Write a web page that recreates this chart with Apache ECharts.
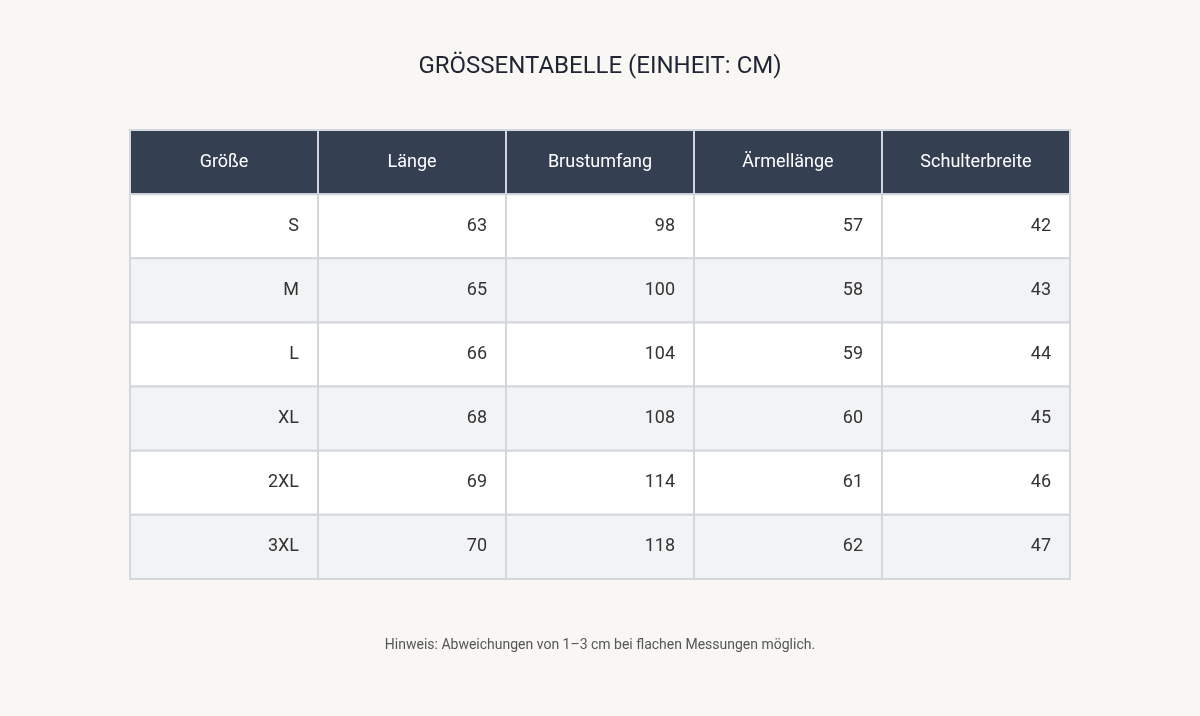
<!DOCTYPE html>
<html>
<head>
<meta charset="utf-8">
<title>Größentabelle</title>
<script src="https://cdn.jsdelivr.net/npm/echarts@6/dist/echarts.min.js"></script>
<style>
  html, body { margin: 0; padding: 0; background: #f8f7f3; }
  #main { width: 1200px; height: 716px; }
</style>
</head>
<body>
<div id="main"></div>
<script>
var headers = ['Größe', 'Länge', 'Brustumfang', 'Ärmellänge', 'Schulterbreite'];
var sizes = ['S', 'M', 'L', 'XL', '2XL', '3XL'];
var laenge = [63, 65, 66, 68, 69, 70];
var brust = [98, 100, 104, 108, 114, 118];
var aermel = [57, 58, 59, 60, 61, 62];
var schulter = [42, 43, 44, 45, 46, 47];

var columns = [sizes, laenge, brust, aermel, schulter];
var rowNames = ['head'].concat(sizes);

// Zellen: [spalte, zeile, text]
var cells = [];
headers.forEach(function (h, c) { cells.push([c, 0, h]); });
sizes.forEach(function (s, r) {
  columns.forEach(function (col, c) { cells.push([c, r + 1, String(col[r])]); });
});

var chart = echarts.init(document.getElementById('main'));
chart.setOption({
  backgroundColor: '#f8f7f3',
  animation: false,
  title: {
    text: 'GRÖSSENTABELLE (EINHEIT: CM)',
    left: 'center', top: 50,
    textStyle: { fontFamily: 'Roboto', fontSize: 24, fontWeight: 'normal', color: '#1f2533' }
  },
  graphic: [{
    type: 'text', left: 'center', top: 638,
    style: { text: 'Hinweis: Abweichungen von 1–3 cm bei flachen Messungen möglich.',
      font: '14px Roboto', fill: '#555' }
  }],
  grid: { left: 130, top: 130, width: 940, height: 449 },
  xAxis: { type: 'category', data: headers, show: false },
  yAxis: { type: 'category', data: rowNames, inverse: true, show: false },
  series: [{
    type: 'custom',
    data: cells,
    renderItem: function (params, api) {
      var c = api.value(0), r = api.value(1);
      var p = api.coord([c, r]);
      var sz = api.size([1, 1]);
      var x = p[0] - sz[0] / 2, y = p[1] - sz[1] / 2;
      var head = r === 0;
      var fill = head ? '#353f52' : (r % 2 === 0 ? '#f2f3f5' : '#ffffff');
      var txt = cells[params.dataIndex][2];
      return {
        type: 'group',
        children: [{
          type: 'rect',
          shape: { x: x, y: y, width: sz[0], height: sz[1] },
          style: { fill: fill, stroke: '#d3d6dc', lineWidth: 2 }
        }, {
          type: 'text',
          x: head ? x + sz[0] / 2 : x + sz[0] - 19,
          y: y + sz[1] / 2,
          style: {
            text: txt, font: '18px Roboto',
            fill: head ? '#ffffff' : '#333333',
            align: head ? 'center' : 'right', verticalAlign: 'middle'
          }
        }]
      };
    }
  }]
});
</script>
</body>
</html>
